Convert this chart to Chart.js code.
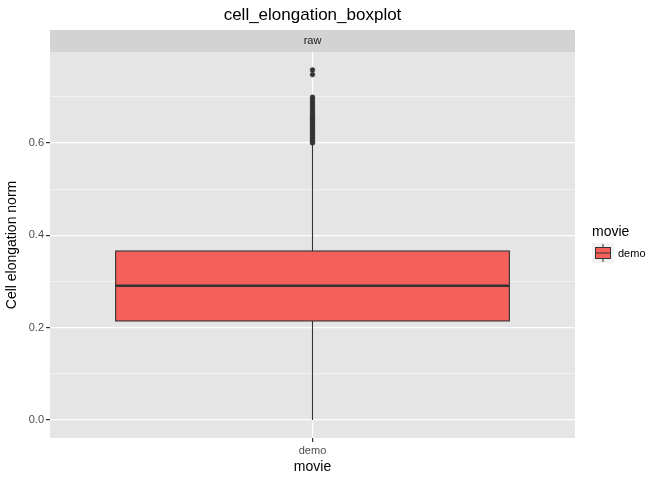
<!DOCTYPE html>
<html><head><meta charset="utf-8">
<script src="https://cdn.jsdelivr.net/npm/chart.js@4"></script>
<style>html,body{margin:0;background:#fff}#wrap{width:672px;height:480px}</style>
</head><body><div id="wrap"><canvas id="c"></canvas></div>
<script>
const categories = ["demo"];
const boxStats = { min: 0.0, q1: 0.2145, median: 0.291, q3: 0.366, max: 0.598 };
const outliers = [0.600, 0.603, 0.607, 0.611, 0.615, 0.619, 0.623, 0.627, 0.631, 0.635,
  0.639, 0.643, 0.647, 0.651, 0.655, 0.659, 0.663, 0.668, 0.673, 0.678, 0.683, 0.688,
  0.693, 0.699, 0.748, 0.758];
const yTicks = [0, 0.2, 0.4, 0.6];

const fill = "#F5605B", ink = "#333333";

const boxPlugin = {
  id: "box",
  beforeDraw(chart) {
    const { ctx, chartArea: a } = chart;
    ctx.save();
    ctx.fillStyle = "#e5e5e5";
    ctx.fillRect(a.left, a.top, a.right - a.left, a.bottom - a.top);
    // facet strip
    ctx.fillStyle = "#d3d3d3";
    ctx.fillRect(a.left, a.top - 22, a.right - a.left, 22);
    ctx.fillStyle = "#1a1a1a";
    ctx.font = "11px 'Liberation Sans', Arial";
    ctx.textAlign = "center"; ctx.textBaseline = "middle";
    ctx.fillText("raw", (a.left + a.right) / 2, a.top - 11);
    // title
    ctx.font = "17px 'Liberation Sans', Arial";
    ctx.fillStyle = "#000";
    ctx.fillText("cell_elongation_boxplot", (a.left + a.right) / 2, 15);
    // legend
    ctx.textAlign = "left";
    ctx.font = "14px 'Liberation Sans', Arial";
    ctx.fillText("movie", 592, 232);
    ctx.fillStyle = "#f2f2f2";
    ctx.fillRect(592, 243, 22, 20);
    ctx.strokeStyle = ink; ctx.lineWidth = 1;
    ctx.beginPath(); ctx.moveTo(603, 244); ctx.lineTo(603, 262); ctx.stroke();
    ctx.fillStyle = fill;
    ctx.fillRect(595, 247, 16, 12); ctx.strokeRect(595.5, 247.5, 15, 11);
    ctx.beginPath(); ctx.moveTo(595, 253); ctx.lineTo(611, 253); ctx.stroke();
    ctx.fillStyle = "#000";
    ctx.font = "11px 'Liberation Sans', Arial";
    ctx.fillText("demo", 618, 254);
    ctx.restore();
  },
  afterDatasetsDraw(chart) {
    const { ctx } = chart;
    const x = chart.scales.x, y = chart.scales.y;
    const cx = x.getPixelForValue(1);
    const half = x.getPixelForValue(1.45) - cx;
    const s = boxStats;
    ctx.save();
    ctx.strokeStyle = ink; ctx.lineWidth = 1.1;
    ctx.beginPath();
    ctx.moveTo(cx, y.getPixelForValue(s.min)); ctx.lineTo(cx, y.getPixelForValue(s.q1));
    ctx.moveTo(cx, y.getPixelForValue(s.q3)); ctx.lineTo(cx, y.getPixelForValue(s.max));
    ctx.stroke();
    const t = y.getPixelForValue(s.q3), b = y.getPixelForValue(s.q1);
    ctx.fillStyle = fill;
    ctx.fillRect(cx - half, t, 2 * half, b - t);
    ctx.strokeRect(cx - half, t, 2 * half, b - t);
    ctx.lineWidth = 2.5;
    const m = y.getPixelForValue(s.median);
    ctx.beginPath(); ctx.moveTo(cx - half, m); ctx.lineTo(cx + half, m); ctx.stroke();
    ctx.restore();
  }
};

new Chart(document.getElementById("c"), {
  type: "scatter",
  data: {
    datasets: [{
      data: outliers.map(v => ({ x: 1, y: v })),
      backgroundColor: ink, borderColor: ink, pointRadius: 2.4, borderWidth: 0.5
    }]
  },
  options: {
    responsive: true, maintainAspectRatio: false, animation: false,
    layout: { padding: { top: 52, right: 97, left: 0, bottom: 0 } },
    plugins: { legend: { display: false }, tooltip: { enabled: false } },
    scales: {
      x: {
        type: "linear", min: 0.4, max: 1.6,
        afterBuildTicks: ax => { ax.ticks = [{ value: 1 }]; },
        afterFit: ax => { ax.height = 42; },
        grid: { color: "#ffffff", lineWidth: 1.2, drawTicks: true, tickColor: "#333", tickLength: 4 },
        border: { display: false },
        ticks: { callback: () => categories[0], color: "#4d4d4d", font: { size: 11, family: "'Liberation Sans', Arial" }, padding: 2 },
        title: { display: true, text: "movie", color: "#000", font: { size: 14, family: "'Liberation Sans', Arial" }, padding: { top: 0 } }
      },
      y: {
        min: -0.039, max: 0.797,
        afterBuildTicks: ax => {
          const t = [];
          for (let i = 0; i <= 7; i++) t.push({ value: i / 10 });
          ax.ticks = t;
        },
        afterFit: ax => { ax.width = 50; },
        grid: {
          color: "#ffffff",
          lineWidth: c => (yTicks.some(v => Math.abs(v - c.tick.value) < 1e-6) ? 1.2 : 0.5),
          tickColor: c => (yTicks.some(v => Math.abs(v - c.tick.value) < 1e-6) ? "#333" : "rgba(0,0,0,0)"),
          tickLength: 4
        },
        border: { display: false },
        ticks: {
          callback: v => (yTicks.some(t => Math.abs(t - v) < 1e-6) ? v.toFixed(1) : ""),
          color: "#4d4d4d", font: { size: 11, family: "'Liberation Sans', Arial" }, padding: 2
        },
        title: { display: true, text: "Cell elongation norm", color: "#000", font: { size: 14, family: "'Liberation Sans', Arial" }, padding: { bottom: 2 } }
      }
    }
  },
  plugins: [boxPlugin]
});
</script>
</body></html>
